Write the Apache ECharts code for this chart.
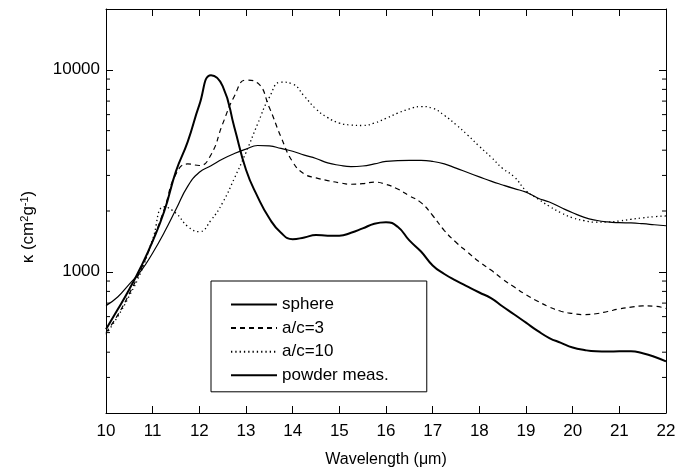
<!DOCTYPE html>
<html>
<head>
<meta charset="utf-8">
<script src="https://cdn.jsdelivr.net/npm/echarts@6/dist/echarts.min.js"></script>
<style>
html,body{margin:0;padding:0;background:#fff;}
#chart{width:691px;height:473px;}
</style>
</head>
<body>
<div id="chart"></div>
<script>
// Wavelength grid (micrometres)
const wavelength = [10,10.25,10.5,10.75,11,11.25,11.5,11.75,12,12.25,12.5,12.75,13,13.25,13.5,13.75,14,14.25,14.5,14.75,15,15.25,15.5,15.75,16,16.25,16.5,16.75,17,17.25,17.5,17.75,18,18.25,18.5,18.75,19,19.25,19.5,19.75,20,20.25,20.5,20.75,21,21.25,21.5,21.75,22];

const sphere = [520,650,820,1060,1420,2000,3150,4400,6700,9400,8300,5200,3200,2350,1840,1560,1450,1480,1520,1510,1510,1560,1640,1730,1760,1670,1430,1260,1075,975,905,845,790,740,673,615,560,510,470,445,422,410,404,403,404,404,395,380,360];

const ac3 = [500,610,780,1030,1420,2050,3050,3420,3360,3800,5400,7400,8900,8600,6500,4650,3500,3050,2920,2830,2760,2713,2730,2780,2710,2570,2380,2200,1900,1600,1400,1250,1120,1020,920,840,770,715,670,638,622,614,620,636,655,668,678,676,658];

const ac10 = [490,600,760,1000,1450,2100,1950,1680,1580,1800,2200,2900,3900,5400,7300,8700,8500,7400,6400,5800,5450,5330,5300,5450,5750,6100,6400,6580,6450,5950,5350,4750,4180,3700,3250,2950,2520,2300,2110,1960,1850,1790,1760,1765,1785,1820,1850,1875,1890];

const powder = [680,750,870,1010,1240,1570,2040,2650,3110,3350,3620,3850,4050,4220,4200,4080,3950,3780,3640,3460,3370,3320,3340,3420,3520,3550,3560,3560,3520,3420,3260,3100,2950,2810,2690,2580,2480,2320,2215,2080,1960,1860,1800,1765,1750,1745,1730,1710,1690];

const xTicks = [10,11,12,13,14,15,16,17,18,19,20,21,22];
const yLabels = [1000, 10000];
const yMinorTicks = [300,400,500,600,700,800,900,2000,3000,4000,5000,6000,7000,8000,9000];

const seriesNames = ['sphere','a/c=3','a/c=10','powder meas.'];

function pairs(vals){ return wavelength.map((w,i)=>[w, vals[i]]); }

const FONT = 'Liberation Sans, Arial, Helvetica, sans-serif';
const chart = echarts.init(document.getElementById('chart'), null, {renderer:'canvas'});

const axisLineStyle = {lineStyle:{color:'#000', width:1}};
const option = {
  animation:false,
  backgroundColor:'#fff',
  grid:{left:106, right:25, top:9, bottom:58, containLabel:false},
  graphic:[{
    type:'text', x:28, y:227, rotation:Math.PI/2,
    style:{
      text:'{n|\u03ba (cm}{s|2}{n|g}{s|-1}{n|)}',
      align:'center', verticalAlign:'middle',
      rich:{
        n:{fontFamily:FONT, fontSize:17, fill:'#000', color:'#000'},
        s:{fontFamily:FONT, fontSize:11, fill:'#000', color:'#000', verticalAlign:'top'}
      }
    }
  }],
  xAxis:[
    {type:'value', min:10, max:22, interval:1, position:'bottom',
     name:'Wavelength (\u03bcm)', nameLocation:'middle', nameGap:39,
     nameTextStyle:{fontFamily:FONT, fontSize:16, color:'#000'},
     axisLine:axisLineStyle,
     axisTick:{inside:true, length:7, lineStyle:{color:'#000'}},
     axisLabel:{fontFamily:FONT, fontSize:17, color:'#000', margin:10},
     splitLine:{show:false}},
    {type:'value', min:10, max:22, interval:1, position:'top',
     axisLine:axisLineStyle,
     axisTick:{inside:true, length:7, lineStyle:{color:'#000'}},
     axisLabel:{show:false}, splitLine:{show:false}}
  ],
  yAxis:[
    {type:'log', min:200, max:20000, position:'left',
     axisLine:axisLineStyle,
     axisTick:{inside:true, length:7, lineStyle:{color:'#000'}},
     axisLabel:{fontFamily:FONT, fontSize:17, color:'#000', margin:6,
       formatter:function(v){ const r=Math.round(v); return yLabels.indexOf(r)>=0? String(r):''; },
       showMinLabel:false, showMaxLabel:false},
     splitLine:{show:false}},
    {type:'log', min:200, max:20000, position:'right',
     axisLine:axisLineStyle,
     axisTick:{inside:true, length:7, lineStyle:{color:'#000'}},
     axisLabel:{show:false}, splitLine:{show:false}}
  ],
  legend:{
    data:seriesNames,
    orient:'vertical', left:211, top:281,
    padding:[15,38,8,19],
    itemWidth:46, itemHeight:14, itemGap:6.6,
    borderColor:'#000', borderWidth:1, backgroundColor:'#fff',
    itemStyle:{opacity:0},
    textStyle:{fontFamily:FONT, fontSize:17, color:'#000'},
    selectedMode:false
  },
  series:[
    {name:'sphere', type:'line', data:pairs(sphere), smooth:0.5, symbol:'none',
     lineStyle:{color:'#000', width:2}, itemStyle:{color:'#000'}, z:5},
    {name:'a/c=3', type:'line', data:pairs(ac3), smooth:0.5, symbol:'none',
     lineStyle:{color:'#000', width:1.2, type:[5,4]}, itemStyle:{color:'#000'}},
    {name:'a/c=10', type:'line', data:pairs(ac10), smooth:0.5, symbol:'none',
     lineStyle:{color:'#000', width:1.3, type:[1.3,3]}, itemStyle:{color:'#000'}},
    {name:'powder meas.', type:'line', data:pairs(powder), smooth:0.5, symbol:'none',
     lineStyle:{color:'#000', width:1.2}, itemStyle:{color:'#000'}},
    {name:'minorTicks', type:'custom', silent:true, clip:false, xAxisIndex:0, yAxisIndex:0,
     data:yMinorTicks.map(v=>[10, v]),
     renderItem:function(params, api){
       const pL = api.coord([10, api.value(1)]);
       const pR = api.coord([22, api.value(1)]);
       return {type:'group', children:[
         {type:'line', shape:{x1:pL[0], y1:pL[1], x2:pL[0]+4, y2:pL[1]}, style:{stroke:'#000', lineWidth:1}},
         {type:'line', shape:{x1:pR[0]-4, y1:pR[1], x2:pR[0], y2:pR[1]}, style:{stroke:'#000', lineWidth:1}}
       ]};
     }}
  ]
};
chart.setOption(option);
</script>
</body>
</html>
